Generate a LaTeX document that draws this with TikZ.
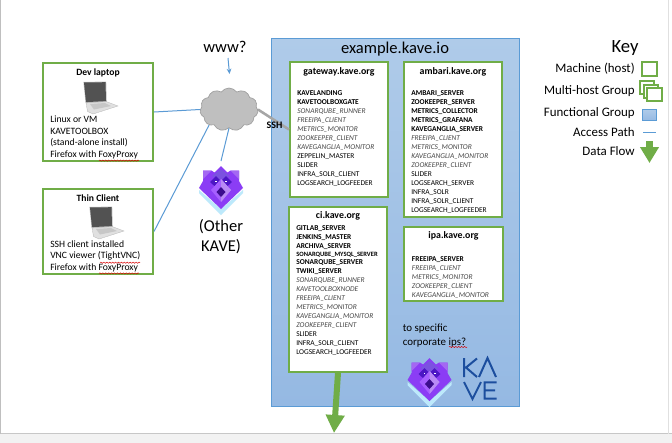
\documentclass[tikz,border=0pt]{standalone}
\usepackage{fontspec}
\setmainfont{Carlito}
\usetikzlibrary{shapes.symbols,arrows.meta,decorations.pathmorphing}
\definecolor{mgreen}{HTML}{70AD47}
\definecolor{mblue}{HTML}{5B9BD5}
\definecolor{grouptop}{RGB}{175,203,233}
\definecolor{groupbot}{RGB}{149,185,227}
\definecolor{wolfmain}{HTML}{8B3DF5}
\definecolor{wolfear}{HTML}{A468F2}
\definecolor{wolftop}{HTML}{7B52E0}
\definecolor{wolfdark}{HTML}{4C17C4}
\definecolor{wolfmuz}{HTML}{A65FFF}
\definecolor{wolfmuzb}{HTML}{B98AF5}
\definecolor{wolfnose}{HTML}{3C0D8E}
\definecolor{wolfshadow}{HTML}{BDE9FB}
\definecolor{kaveblue}{HTML}{1C4E9E}
\newcommand{\srvb}[1]{\textbf{#1}\\}
\newcommand{\srvi}[1]{\textcolor{black!72}{\textit{#1}}\\}
\newcommand{\srvn}[1]{#1\\}
\tikzset{
  x=0.75pt,y=-0.75pt,
  machine/.style={draw=mgreen,line width=1.5pt,fill=white,inner sep=0pt},
  grouped/.style={draw=mblue,top color=grouptop,bottom color=groupbot,inner sep=0pt},
  bigfont/.style={font=\fontsize{12.4}{15}\selectfont,inner sep=0pt},
  keyfont/.style={font=\fontsize{9.7}{12}\selectfont,inner sep=0pt,anchor=east},
  hosttitle/.style={font=\fontsize{7.4}{9}\selectfont\bfseries,inner sep=0pt},
  boxtitle/.style={font=\fontsize{7.2}{9}\selectfont\bfseries,inner sep=0pt},
  boxtext/.style={font=\fontsize{7.25}{8.6}\selectfont,inner sep=0pt,anchor=north west,align=left},
  services/.style={font=\fontsize{5.57}{6.75}\selectfont,inner sep=0pt,anchor=north west,align=left},
  access/.style={draw=mblue,line width=0.75pt},
  spell/.style={draw=red!85!black,line width=0.35pt,decorate,decoration={snake,amplitude=0.45pt,segment length=2.2pt}},
  laptop/.pic={
    \fill[black!12,draw=black!30,line width=0.2pt] (2,20) -- (22,19) -- (34,23.5) -- (9,31.5) -- (3.5,29) -- cycle;
    \fill[black!22] (6,21.5) -- (21,20.5) -- (27,23.5) -- (10,27) -- cycle;
    \fill[black!25] (-0.6,-0.6) -- (22.2,-0.9) -- (22.8,19.4) -- (1.6,20.6) -- cycle;
    \fill[black!68] (0,0) -- (21.5,-0.3) -- (22,18.6) -- (2,19.6) -- cycle;
  },
  kavelogo/.pic={
    \fill[wolfshadow] (-22,24) -- (0,43) -- (22,24) -- (22,27) -- (0,49) -- (-22,27) -- cycle;
    \fill[wolfmain] (0,0) -- (-6.5,6.5) -- (-9.5,4.5) -- (-18,4.5) -- (-18,15) -- (-22,22) -- (0,43) -- (22,22) -- (18,15) -- (18,4.5) -- (9.5,4.5) -- (6.5,6.5) -- cycle;
    \fill[wolfear] (-18,4.5) -- (-9.5,4.5) -- (-18,13) -- cycle;
    \fill[wolfear] (18,4.5) -- (9.5,4.5) -- (18,13) -- cycle;
    \fill[wolftop] (0,3) -- (-9,10) -- (0,17) -- (9,10) -- cycle;
    \fill[wolfdark] (-11,16) -- (-5,10) -- (0,15) -- (5,10) -- (11,16) -- (0,26) -- cycle;
    \fill[wolfmuz] (0,13) -- (-10,24) -- (0,36) -- (10,24) -- cycle;
    \fill[wolfmuzb] (0,13) -- (10,24) -- (0,36) -- cycle;
    \fill[wolfnose] (0,21) -- (-4.5,26) -- (0,31) -- (4.5,26) -- cycle;
    \fill[white] (-6,14.7) rectangle (-4.4,16.3);
    \fill[white] (6,14.7) rectangle (4.4,16.3);
  },
}
\begin{document}
\begin{tikzpicture}
\useasboundingbox (0,0) rectangle (672,443);
\fill[white] (0,0) rectangle (672,443);
\fill[black!5] (0,434) rectangle (672,443);
\draw[black!22,line width=0.75pt] (0,433.7) -- (672,433.7);
\draw[black!25,line width=0.75pt] (0.5,0) -- (0.5,433.7);
\draw[black!12,line width=0.75pt] (668.5,0) -- (668.5,433.7);

% main group
\node[grouped,line width=0.75pt,minimum width=248*0.75pt,minimum height=367.5*0.75pt] (main) at (395,222.25) {};
\node[bigfont] (maintitle) at (395,49) {example.kave.io};

% hosts
\node[machine,minimum width=98*0.75pt,minimum height=135*0.75pt] (gateway) at (339,129.5) {};
\node[machine,minimum width=98*0.75pt,minimum height=155*0.75pt] (ambari) at (453,139.5) {};
\node[machine,minimum width=98*0.75pt,minimum height=165*0.75pt] (ci) at (338,289.5) {};
\node[machine,minimum width=99*0.75pt,minimum height=74*0.75pt] (ipa) at (453.5,264) {};

\node[hosttitle] (gatewayt) at (339,72) {gateway.kave.org};
\node[hosttitle] (ambarit) at (453,72) {ambari.kave.org};
\node[hosttitle] (cit) at (338,216) {ci.kave.org};
\node[hosttitle] (ipat) at (453.5,236) {ipa.kave.org};

\node[services] (gatewayl) at (297,90.7) {%
\srvb{KAVELANDING}\srvb{KAVETOOLBOXGATE}\srvi{SONARQUBE\_RUNNER}\srvi{FREEIPA\_CLIENT}\srvi{METRICS\_MONITOR}\srvi{ZOOKEEPER\_CLIENT}\srvi{KAVEGANGLIA\_MONITOR}\srvn{ZEPPELIN\_MASTER}\srvn{SLIDER}\srvn{INFRA\_SOLR\_CLIENT}LOGSEARCH\_LOGFEEDER};
\node[services] (ambaril) at (411,90.7) {%
\srvb{AMBARI\_SERVER}\srvb{ZOOKEEPER\_SERVER}\srvb{METRICS\_COLLECTOR}\srvb{METRICS\_GRAFANA}\srvb{KAVEGANGLIA\_SERVER}\srvi{FREEIPA\_CLIENT}\srvi{METRICS\_MONITOR}\srvi{KAVEGANGLIA\_MONITOR}\srvi{ZOOKEEPER\_CLIENT}\srvn{SLIDER}\srvn{LOGSEARCH\_SERVER}\srvn{INFRA\_SOLR}\srvn{INFRA\_SOLR\_CLIENT}LOGSEARCH\_LOGFEEDER};
\node[services] (cil) at (296,225.2) {%
\srvb{GITLAB\_SERVER}\srvb{JENKINS\_MASTER}\textbf{ARCHIVA\_SERVER}\\[-0.75pt]
{\fontsize{4.9}{6}\selectfont\textbf{SONARQUBE\_MYSQL\_SERVER}}\\[-0.75pt]
\srvb{SONARQUBE\_SERVER}\srvb{TWIKI\_SERVER}\srvi{SONARQUBE\_RUNNER}\srvi{KAVETOOLBOXNODE}\srvi{FREEIPA\_CLIENT}\srvi{METRICS\_MONITOR}\srvi{KAVEGANGLIA\_MONITOR}\srvi{ZOOKEEPER\_CLIENT}\srvn{SLIDER}\srvn{INFRA\_SOLR\_CLIENT}LOGSEARCH\_LOGFEEDER};
\node[services] (ipal) at (411.7,256) {%
\srvb{FREEIPA\_SERVER}\srvi{FREEIPA\_CLIENT}\srvi{METRICS\_MONITOR}\srvi{ZOOKEEPER\_CLIENT}\textcolor{black!72}{\textit{KAVEGANGLIA\_MONITOR}}};

\node[inner sep=0pt,font=\fontsize{8.2}{10.5}\selectfont,anchor=north west,align=left] (corp) at (402.5,323.5) {to specific\\corporate ips?};
\draw[spell] (449,347) -- (467,347);

% logos
\pic at (429.5,358) {kavelogo};
\pic at (221,166) {kavelogo};
\coordinate (otherlogo) at (221,161);
\draw[kaveblue,line width=1.5pt,line join=miter]
  (464,358) -- (464,377)
  (477,358.5) -- (466,367.5) -- (477,377)
  (479,377) -- (487.5,358) -- (496,377)
  (464,382) -- (472.5,399) -- (481,382)
  (496.5,382.3) -- (484.5,382.3) -- (484.5,398.7) -- (496.5,398.7)
  (484.5,390.3) -- (495,390.3);

% clients
\node[machine,minimum width=110*0.75pt,minimum height=98*0.75pt] (dev) at (98,112) {};
\node[machine,minimum width=110*0.75pt,minimum height=85*0.75pt] (thin) at (98,231.5) {};
\node[boxtitle] (devt) at (98,73) {Dev laptop};
\node[boxtitle] (thint) at (98,198) {Thin Client};
\pic at (84,82.5) {laptop};
\pic at (90,207.5) {laptop};
\node[boxtext] (devl) at (50,116) {Linux or VM\\KAVETOOLBOX\\(stand-alone install)\\Firefox with FoxyProxy};
\node[boxtext] (thinl) at (50,240.5) {SSH client installed\\VNC viewer (TightVNC)\\Firefox with FoxyProxy};
\draw[spell] (99,160.6) -- (139,160.6);
\draw[spell] (100,262.7) -- (140,262.7);
\draw[spell] (99,273.4) -- (139,273.4);

% cloud and connectors
\node[cloud,cloud puffs=11,cloud puff arc=110,aspect=1.35,draw=black!38,fill=black!25,line width=0.5pt,minimum width=58*0.75pt,minimum height=43*0.75pt,inner sep=0pt] (cloud) at (229,109.5) {};
\draw[access] (dev.east) -- (cloud.west);
\draw[access] (thin.east) -- (cloud.218);
\draw[access] (cloud.south) -- (otherlogo);
\draw[draw=black!35,line width=1.9pt] (cloud.east) -- (gateway.west);
\node[inner sep=0pt,font=\fontsize{7.5}{9}\selectfont\bfseries] (ssh) at (274.5,125) {SSH};
\node[bigfont] (www) at (225,47) {www?};
\coordinate (wwwa) at (228,58);
\coordinate (wwwb) at (229.5,74);
\draw[access,-{Stealth[length=4pt,width=3.5pt]}] (wwwa) -- (wwwb);
\node[bigfont,align=center,font=\fontsize{12.4}{15}\selectfont] (other) at (221,237) {(Other\\KAVE)};

% data flow
\coordinate (flowend) at (334,433);
\draw[mgreen,line width=4.5pt,-{Triangle[length=13.5pt,width=13.5pt]}] (ci.south) -- (flowend);

% key
\node[inner sep=0pt,font=\fontsize{14}{17}\selectfont] (keyt) at (625,48) {Key};
\node[keyfont] (k1) at (635,69) {Machine (host)};
\node[keyfont] (k2) at (635,91) {Multi-host Group};
\node[keyfont] (k3) at (635,113) {Functional Group};
\node[keyfont] (k4) at (635,132) {Access Path};
\node[keyfont] (k5) at (635,151) {Data Flow};
\node[machine,minimum width=15*0.75pt,minimum height=13.5*0.75pt] (km) at (649,69) {};
\node[machine,minimum width=14*0.75pt,minimum height=13*0.75pt] (kg1) at (646.5,87.5) {};
\node[machine,minimum width=14*0.75pt,minimum height=13*0.75pt] (kg2) at (650.5,91) {};
\node[machine,minimum width=15*0.75pt,minimum height=13*0.75pt] (kg3) at (654,94) {};
\node[grouped,line width=0.6pt,minimum width=14.5*0.75pt,minimum height=11.5*0.75pt] (kf) at (649.5,115) {};
\coordinate (ka) at (643,132.7);
\coordinate (kb) at (656,132.7);
\draw[access] (ka) -- (kb);
\coordinate (kfa) at (649.5,141);
\coordinate (kfb) at (649.5,163);
\draw[mgreen,line width=5.6pt,-{Triangle[length=12pt,width=13.5pt]}] (kfa) -- (kfb);
\end{tikzpicture}
\end{document}
